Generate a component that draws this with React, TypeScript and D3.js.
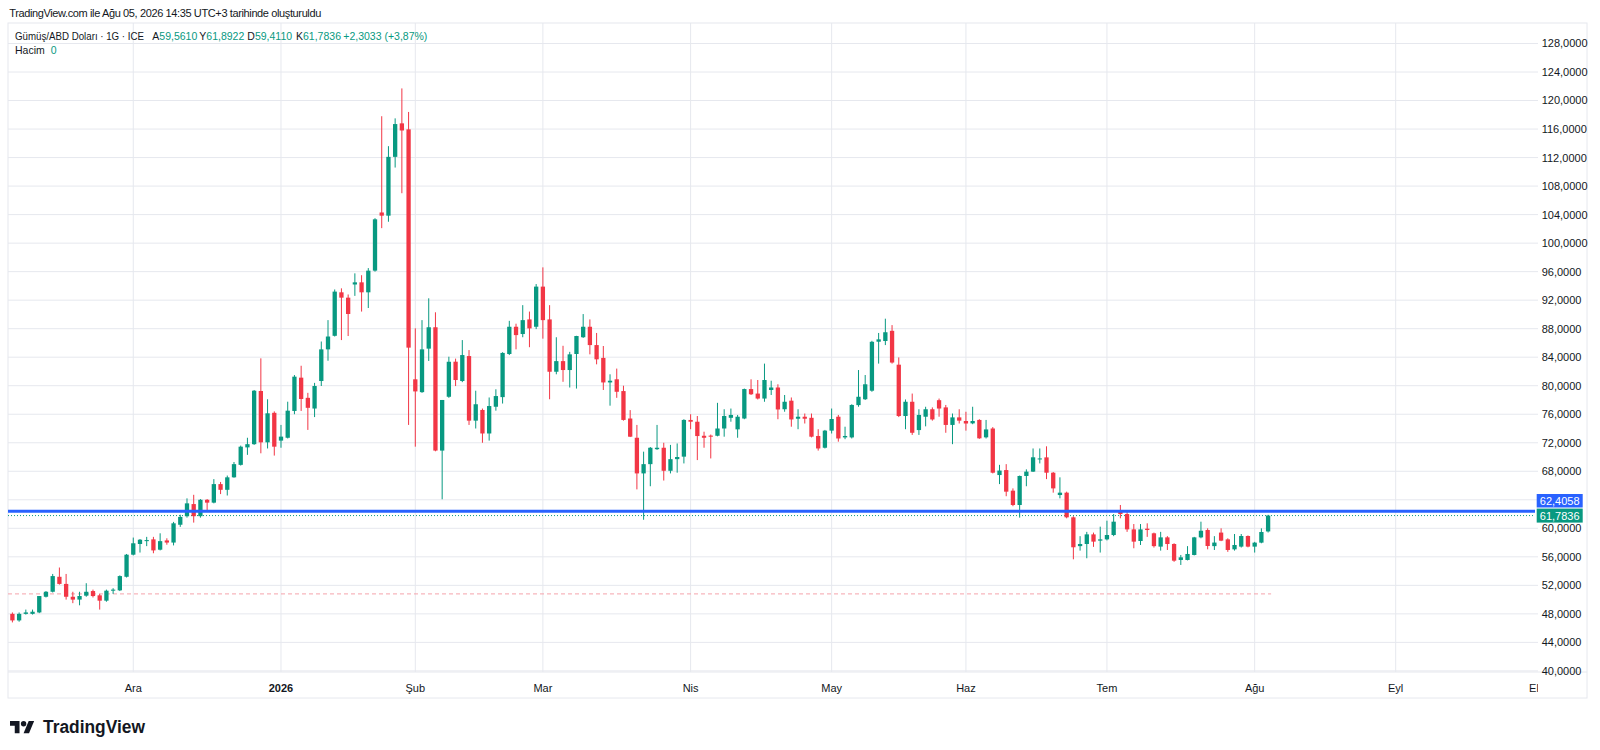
import * as d3 from 'd3';
import React from 'react';

// Gümüş/ABD Doları, 1G bars (Nov 4 2025 .. Aug 5 2026), one value per trading day
const opens = [
  48.0, 47.08, 48.0, 48.0, 48.2, 50.4, 51.1, 53.2, 52.2, 50.4,
  50.0, 50.55, 51.2, 50.6, 49.85, 51.25, 51.3, 53.2, 56.3, 57.8,
  58.2, 58.45, 57.0, 58.3, 58.0, 60.5, 61.7, 63.4, 61.7, 64.0,
  63.6, 66.2, 65.4, 67.15, 68.9, 71.35, 71.8, 79.26, 72.06, 76.2,
  72.3, 72.7, 76.46, 81.13, 78.3, 76.8, 80.66, 85.1, 87.0, 93.1,
  92.35, 94.2, 94.5, 93.1, 96.14, 104.3, 103.85, 112.1, 116.8, 115.96,
  80.9, 79.1, 85.2, 88.2, 70.9, 78.45, 83.37, 80.66, 84.16, 75.1,
  76.6, 73.3, 77.05, 78.4, 84.45, 88.27, 87.25, 89.3, 88.27, 93.9,
  89.3, 81.96, 83.45, 82.2, 84.45, 86.8, 88.27, 85.7, 83.9, 80.46,
  80.9, 79.25, 75.4, 72.7, 67.7, 69.0, 71.1, 71.3, 68.07, 69.7,
  70.05, 75.2, 74.95, 72.98, 73.0, 72.98, 74.0, 75.5, 73.88, 75.4,
  79.53, 78.9, 78.2, 79.4, 79.75, 76.7, 77.9, 75.37, 75.65, 75.5,
  72.95, 71.3, 73.7, 75.65, 72.75, 72.75, 77.28, 78.1, 79.3, 86.17,
  86.27, 87.7, 82.95, 75.75, 77.75, 73.78, 75.65, 76.7, 77.97, 76.96,
  74.5, 75.56, 75.05, 74.72, 75.2, 72.76, 74.0, 67.47, 68.17, 65.28,
  63.27, 67.34, 67.95, 69.7, 69.95, 67.8, 64.67, 65.0, 61.54, 57.5,
  57.8, 59.15, 58.27, 58.45, 59.06, 62.47, 62.0, 59.85, 58.22, 59.95,
  59.3, 57.43, 58.73, 57.8, 55.56, 55.56, 56.26, 58.73, 59.76, 57.5,
  59.4, 58.45, 57.05, 57.43, 58.92, 57.43, 57.99, 59.561,
];

const highs = [
  48.2, 48.2, 48.6, 48.6, 50.5, 51.2, 53.6, 54.5, 53.6, 51.1,
  51.1, 52.3, 51.4, 50.8, 51.4, 51.6, 53.4, 56.4, 58.7, 58.5,
  58.8, 58.8, 59.3, 58.6, 60.9, 61.9, 64.2, 64.7, 64.1, 64.1,
  66.9, 66.5, 67.4, 69.3, 71.6, 72.7, 79.4, 83.84, 78.1, 76.4,
  74.5, 77.76, 81.5, 82.8, 79.0, 80.4, 86.2, 89.2, 93.5, 93.66,
  92.8, 95.76, 95.5, 96.5, 103.5, 117.8, 113.6, 117.5, 121.7, 118.4,
  88.05, 89.2, 92.26, 90.3, 78.0, 84.07, 83.8, 86.4, 85.0, 79.3,
  76.8, 78.35, 79.5, 84.7, 89.1, 88.7, 91.3, 90.4, 94.26, 96.6,
  91.3, 86.8, 85.6, 84.75, 87.0, 90.05, 89.3, 87.4, 85.57, 81.6,
  82.4, 80.0, 76.58, 74.5, 70.75, 71.4, 74.5, 72.0, 71.7, 71.9,
  75.3, 76.0, 75.75, 73.55, 73.15, 77.6, 76.7, 76.8, 75.9, 79.6,
  80.9, 80.8, 83.1, 80.7, 80.2, 78.7, 78.35, 76.7, 76.1, 76.1,
  73.9, 73.8, 76.8, 75.9, 74.25, 77.4, 82.2, 81.5, 86.3, 87.4,
  89.4, 88.5, 83.97, 78.07, 78.9, 76.7, 77.05, 76.96, 78.2, 77.3,
  76.1, 76.7, 76.35, 77.05, 75.3, 75.2, 74.2, 68.9, 69.0, 65.6,
  67.4, 68.27, 71.2, 71.2, 71.5, 67.9, 67.15, 65.14, 61.7, 58.9,
  59.5, 59.4, 60.23, 61.07, 62.0, 63.27, 62.47, 60.6, 60.6, 60.7,
  59.4, 59.5, 58.9, 57.9, 56.26, 57.5, 58.8, 60.93, 60.0, 58.9,
  60.0, 58.6, 59.2, 59.2, 59.0, 58.1, 60.0, 61.8922,
];

const lows = [
  46.8, 46.9, 47.9, 47.9, 48.1, 50.3, 51.0, 52.1, 50.0, 49.5,
  49.2, 50.4, 50.3, 48.6, 49.7, 50.8, 51.2, 53.1, 56.2, 56.6,
  57.5, 56.5, 56.9, 57.7, 57.6, 60.2, 61.5, 60.8, 61.5, 62.5,
  63.5, 64.8, 64.6, 67.1, 68.8, 70.3, 71.7, 70.52, 71.2, 70.2,
  71.3, 72.6, 76.0, 76.46, 73.8, 75.6, 79.96, 83.5, 86.9, 86.4,
  86.97, 92.6, 90.4, 90.9, 96.0, 102.1, 103.0, 110.6, 107.0, 74.5,
  71.45, 79.0, 83.47, 70.8, 64.07, 78.3, 79.95, 80.5, 74.5, 74.0,
  72.0, 72.3, 76.5, 77.5, 84.3, 85.1, 86.8, 85.4, 87.94, 86.6,
  78.1, 81.6, 80.55, 79.75, 79.6, 86.7, 84.4, 83.0, 79.4, 77.2,
  78.3, 75.1, 72.8, 65.46, 61.2, 65.9, 71.0, 66.7, 67.7, 67.8,
  69.1, 73.9, 69.57, 71.3, 69.8, 72.9, 72.85, 74.95, 72.7, 75.3,
  78.7, 78.07, 77.75, 78.7, 75.3, 76.35, 74.25, 73.9, 74.7, 72.75,
  70.9, 71.2, 73.3, 72.15, 72.5, 72.6, 77.05, 78.0, 79.15, 83.1,
  85.7, 83.1, 75.6, 73.9, 73.1, 73.1, 74.3, 75.1, 75.65, 73.4,
  71.8, 74.7, 73.7, 74.6, 72.55, 72.6, 67.7, 66.2, 64.5, 63.1,
  61.5, 65.9, 67.9, 69.1, 66.9, 65.0, 64.2, 61.4, 55.65, 56.87,
  55.8, 57.4, 56.6, 58.3, 58.9, 61.4, 59.5, 57.2, 57.66, 58.8,
  57.3, 56.87, 56.96, 55.3, 54.86, 55.5, 56.2, 58.6, 57.05, 56.96,
  58.2, 56.7, 56.87, 57.3, 57.33, 56.6, 57.9, 59.411,
];

const closes = [
  47.08, 48.0, 48.2, 48.3, 50.5, 51.1, 53.3, 52.2, 50.4, 50.0,
  50.5, 51.1, 50.5, 49.85, 51.25, 51.4, 53.3, 56.3, 57.9, 58.4,
  58.35, 56.9, 58.2, 58.0, 60.7, 61.6, 63.5, 61.7, 64.0, 63.6,
  66.2, 65.4, 67.15, 69.0, 71.45, 71.8, 79.3, 72.06, 76.13, 71.45,
  72.86, 76.5, 81.27, 78.14, 76.9, 79.96, 85.1, 86.9, 93.2, 92.35,
  90.06, 94.5, 93.1, 96.14, 103.34, 103.85, 112.1, 116.7, 115.8, 85.34,
  79.2, 85.1, 88.2, 70.9, 78.0, 83.36, 80.8, 84.3, 75.1, 77.4,
  73.3, 77.15, 78.55, 84.6, 88.27, 87.1, 89.2, 88.04, 93.9, 89.2,
  81.96, 83.45, 82.2, 84.4, 86.97, 88.27, 85.7, 83.7, 80.46, 80.7,
  79.15, 75.2, 72.85, 67.7, 69.0, 71.3, 71.3, 68.07, 69.7, 70.0,
  75.2, 74.95, 72.94, 72.7, 72.85, 74.0, 75.75, 75.9, 75.65, 79.53,
  78.8, 78.2, 80.8, 79.75, 76.67, 77.75, 75.27, 75.65, 75.37, 72.85,
  71.2, 73.7, 75.33, 72.6, 72.95, 77.3, 78.45, 80.2, 86.16, 86.5,
  87.5, 83.25, 75.75, 77.75, 73.4, 75.9, 76.7, 75.27, 76.8, 74.5,
  75.56, 75.1, 74.7, 75.05, 72.62, 73.87, 67.8, 68.1, 65.14, 63.27,
  67.34, 67.95, 69.96, 69.8, 67.8, 65.6, 65.0, 61.54, 57.34, 57.8,
  59.15, 58.13, 58.45, 59.06, 60.93, 62.0, 59.85, 58.13, 59.85, 59.76,
  57.5, 58.73, 57.8, 55.46, 55.93, 56.4, 58.73, 59.66, 57.52, 58.0,
  58.27, 56.96, 57.66, 58.92, 57.43, 57.99, 59.48, 61.7836,
];

// first trading bar of each month (bar number), incl. projected future bars
const monthLabels = ['Ara', '2026', 'Şub', 'Mar', 'Nis', 'May', 'Haz', 'Tem', 'Ağu', 'Eyl', 'Eki'];
const monthBars = [18, 40, 60, 79, 101, 122, 142, 163, 185, 206, 227];

const priceTicks = d3.range(40, 129, 4);

const horizontalLine = 62.4058;
const lastPrice = 61.7836;
const dashedLevel = 50.8;

// legend: label letters and their values
const legendKeys = ['A', 'Y', 'D', 'K'];
const legendValues = ['59,5610', '61,8922', '59,4110', '61,7836'];
const legendChange = '+2,3033 (+3,87%)';

const UP = '#089981';
const DOWN = '#f23645';
const TEXT = '#131722';
const GRID = '#e6e8ee';
const FONT = "'Liberation Sans', Arial, sans-serif";

const fmt = (v: number) => d3.format('.4f')(v).replace('.', ',');

const App: React.FC = () => {
  const left = 8;
  const plotRight = 1535;
  const boxRight = 1587;
  const top = 23;
  const axisY = 672;
  const boxBottom = 698;

  const x = d3.scaleLinear().domain([0, opens.length - 1]).range([12.4, 1268.1]);
  const y = d3.scaleLinear().domain([40, 128]).range([670.9, 43.5]);
  const step = x(1) - x(0);
  const bodyW = step * 0.64;

  const candles = opens.map((o, i) => ({
    o,
    c: closes[i],
    h: Math.max(highs[i], o, closes[i]),
    l: Math.min(lows[i], o, closes[i]),
  }));

  const legendX = [152.3, 199.3, 247.3, 296];

  return (
    <div style={{ position: 'absolute', left: 0, top: 0 }}>
      <svg width={1600} height={750} style={{ display: 'block', background: '#fff' }} fontFamily={FONT}>
        <defs>
          <clipPath id="timeClip">
            <rect x={left} y={axisY} width={1538 - left} height={boxBottom - axisY} />
          </clipPath>
        </defs>

        <text x={9.3} y={17} fontSize={11} fill={TEXT} textLength={312}>
          TradingView.com ile Ağu 05, 2026 14:35 UTC+3 tarihinde oluşturuldu
        </text>

        <rect x={left} y={top} width={boxRight - left} height={boxBottom - top} fill="none" stroke={GRID} />

        {/* grid */}
        {priceTicks.map((t) => (
          <line key={`h-${t}`} x1={left} x2={plotRight + 3} y1={y(t)} y2={y(t)} stroke={GRID} />
        ))}
        {monthBars.map((b, i) =>
          x(b) < plotRight ? (
            <line key={`v-${monthLabels[i]}`} x1={x(b)} x2={x(b)} y1={top} y2={axisY} stroke={GRID} />
          ) : null
        )}
        <line x1={left} x2={boxRight} y1={axisY} y2={axisY} stroke={GRID} />

        {/* level lines */}
        <line x1={left} x2={x(opens.length - 1) + 3} y1={y(dashedLevel)} y2={y(dashedLevel)} stroke="#f5a3ab" strokeDasharray="4 3" />
        <line x1={left} x2={plotRight} y1={y(lastPrice)} y2={y(lastPrice)} stroke={UP} strokeDasharray="1 2" />

        {/* candles */}
        {candles.map((d, i) => {
          const color = d.c >= d.o ? UP : DOWN;
          const cx = x(i);
          const yt = y(Math.max(d.o, d.c));
          const yb = y(Math.min(d.o, d.c));
          return (
            <g key={i}>
              <line x1={cx} x2={cx} y1={y(d.h)} y2={y(d.l)} stroke={color} strokeWidth={1} />
              <rect x={cx - bodyW / 2} y={yt} width={bodyW} height={Math.max(1, yb - yt)} fill={color} />
            </g>
          );
        })}

        <line x1={left} x2={plotRight} y1={y(horizontalLine)} y2={y(horizontalLine)} stroke="#2962ff" strokeWidth={3} />

        {/* price axis */}
        {priceTicks.map((t) => (
          <text key={`yl-${t}`} x={1541.7} y={y(t)} dy="0.36em" fontSize={11} fill={TEXT}>
            {fmt(t)}
          </text>
        ))}
        <rect x={1536.7} y={494} width={46} height={13.5} fill="#2962ff" />
        <text x={1559.7} y={500.8} dy="0.36em" fontSize={11} fill="#fff" textAnchor="middle">
          {fmt(horizontalLine)}
        </text>
        <rect x={1536.7} y={y(lastPrice) - 7} width={46} height={14} fill={UP} />
        <text x={1559.7} y={y(lastPrice)} dy="0.36em" fontSize={11} fill="#fff" textAnchor="middle">
          {fmt(lastPrice)}
        </text>

        {/* time axis */}
        <g clipPath="url(#timeClip)">
          {monthBars.map((b, i) => (
            <text
              key={`xl-${monthLabels[i]}`}
              x={x(b)}
              y={692}
              fontSize={11}
              fill={TEXT}
              textAnchor="middle"
              fontWeight={monthLabels[i] === '2026' ? 'bold' : 'normal'}
            >
              {monthLabels[i]}
            </text>
          ))}
        </g>

        {/* legend */}
        <text x={15} y={40} fontSize={10.5} fill={TEXT} textLength={129} lengthAdjust="spacingAndGlyphs">
          Gümüş/ABD Doları · 1G · ICE
        </text>
        {legendKeys.map((k, i) => (
          <text key={`lg-${k}`} x={legendX[i]} y={40} fontSize={10.5} fill={TEXT}>
            {k}
            <tspan fill={UP}>{legendValues[i]}</tspan>
          </text>
        ))}
        <text x={343.3} y={40} fontSize={10.5} fill={UP}>
          {legendChange}
        </text>
        <text y={54} fontSize={10.5} fill={TEXT}>
          <tspan x={15}>Hacim</tspan>
          <tspan x={50.7} fill={UP}>0</tspan>
        </text>

        {/* logo */}
        <g transform="translate(10,718.3) scale(0.68)" fill={TEXT}>
          <path d="M14 22H7V11H0V4h14v18z" />
          <circle cx={20} cy={8} r={4} />
          <path d="M28 22h-8l7.5-18h8L28 22z" />
        </g>
        <text x={43} y={733} fontSize={18} fontWeight="bold" fill={TEXT} textLength={102} lengthAdjust="spacingAndGlyphs">
          TradingView
        </text>
      </svg>
    </div>
  );
};

export default App;
